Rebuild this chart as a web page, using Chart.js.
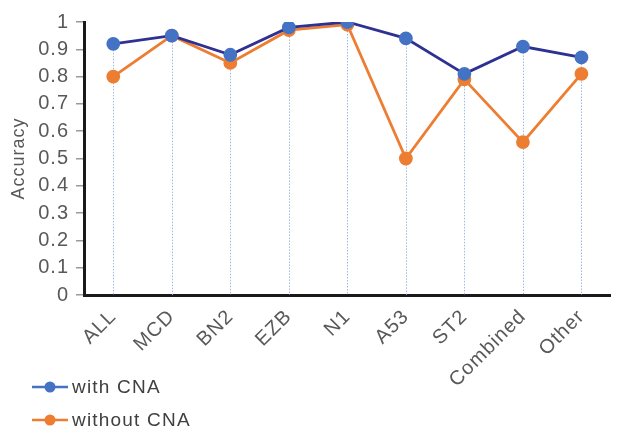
<!DOCTYPE html>
<html><head><meta charset="utf-8">
<script src="https://cdn.jsdelivr.net/npm/chart.js@4"></script>
<style>html,body{margin:0;padding:0;background:#fff}#wrap{width:619px;height:434px;position:relative}</style>
</head><body><div id="wrap"><canvas id="c"></canvas></div>
<script>
const categories = ["ALL","MCD","BN2","EZB","N1","A53","ST2","Combined","Other"];
const withCNA = [0.92,0.95,0.88,0.98,1.00,0.94,0.81,0.91,0.87];
const withoutCNA = [0.80,0.95,0.85,0.97,0.99,0.50,0.79,0.56,0.81];
const yTicks = [0,0.1,0.2,0.3,0.4,0.5,0.6,0.7,0.8,0.9,1];
const seriesNames = ["with CNA","without CNA"];

const FONT = "'Liberation Sans', Arial, Helvetica, sans-serif";
const TXT = '#595959';

const spacing = {
  id:'spacing',
  beforeDraw(chart){ chart.ctx.letterSpacing='1px'; }
};
const dropLines = {
  id:'dropLines',
  beforeDatasetsDraw(chart){
    const ctx=chart.ctx, bottom=chart.chartArea.bottom;
    const m0=chart.getDatasetMeta(0).data, m1=chart.getDatasetMeta(1).data;
    ctx.save();
    ctx.strokeStyle='#9FB8E4'; ctx.lineWidth=1; ctx.setLineDash([1.5,1.5]);
    m0.forEach((p,i)=>{
      const top=Math.min(p.y,m1[i].y);
      const x=Math.round(p.x)+0.5;
      ctx.beginPath(); ctx.moveTo(x,top); ctx.lineTo(x,bottom); ctx.stroke();
    });
    ctx.restore();
  }
};
const legendPlugin = {
  id:'customLegend',
  afterDraw(chart){
    const ctx=chart.ctx;
    const ys=[387,420];
    chart.data.datasets.forEach((ds,i)=>{
      const y=ys[i];
      ctx.save();
      ctx.letterSpacing='1.2px';
      ctx.strokeStyle=ds.legendLine; ctx.lineWidth=2.5;
      ctx.beginPath(); ctx.moveTo(32,y); ctx.lineTo(68,y); ctx.stroke();
      ctx.fillStyle=ds.pointBackgroundColor;
      ctx.beginPath(); ctx.arc(50,y,5.5,0,Math.PI*2); ctx.fill();
      ctx.fillStyle='#404040'; ctx.font='19px '+FONT; ctx.textBaseline='middle'; ctx.textAlign='left';
      ctx.fillText(ds.label,72,y+1);
      ctx.restore();
    });
  }
};

new Chart(document.getElementById('c'),{
  type:'line',
  data:{labels:categories,datasets:[
    {label:seriesNames[0],data:withCNA,borderColor:'#2E3192',legendLine:'#4472C4',backgroundColor:'#4472C4',pointBackgroundColor:'#4472C4',pointBorderColor:'#4472C4',pointRadius:5.5,borderWidth:2.8,tension:0},
    {label:seriesNames[1],data:withoutCNA,borderColor:'#ED7D31',legendLine:'#ED7D31',backgroundColor:'#ED7D31',pointBackgroundColor:'#ED7D31',pointBorderColor:'#ED7D31',pointRadius:5.5,borderWidth:2.8,tension:0}
  ]},
  options:{
    responsive:true,maintainAspectRatio:false,animation:false,
    layout:{padding:{left:0,right:0,top:22,bottom:49}},
    plugins:{legend:{display:false},tooltip:{enabled:false}},
    scales:{
      x:{offset:true,
        grid:{display:false},
        border:{display:true,color:'#1a1a1a',width:3},
        ticks:{color:TXT,font:{family:FONT,size:20},minRotation:45,maxRotation:45,padding:2,autoSkip:false},
        afterFit(s){s.height=90;}
      },
      y:{min:0,max:1,
        afterBuildTicks(s){s.ticks=yTicks.map(v=>({value:v}));},
        grid:{drawOnChartArea:false,drawTicks:true,tickLength:8,color:'#9a9a9a',lineWidth:1.5},
        border:{display:true,color:'#1a1a1a',width:3},
        ticks:{color:TXT,font:{family:FONT,size:20},padding:7,callback:v=>String(v)},
        title:{display:true,text:'Accuracy',color:TXT,font:{family:FONT,size:18},padding:{top:8,bottom:4}},
        afterFit(s){s.width=84;}
      }
    }
  },
  plugins:[spacing,dropLines,legendPlugin]
});
</script></body></html>
